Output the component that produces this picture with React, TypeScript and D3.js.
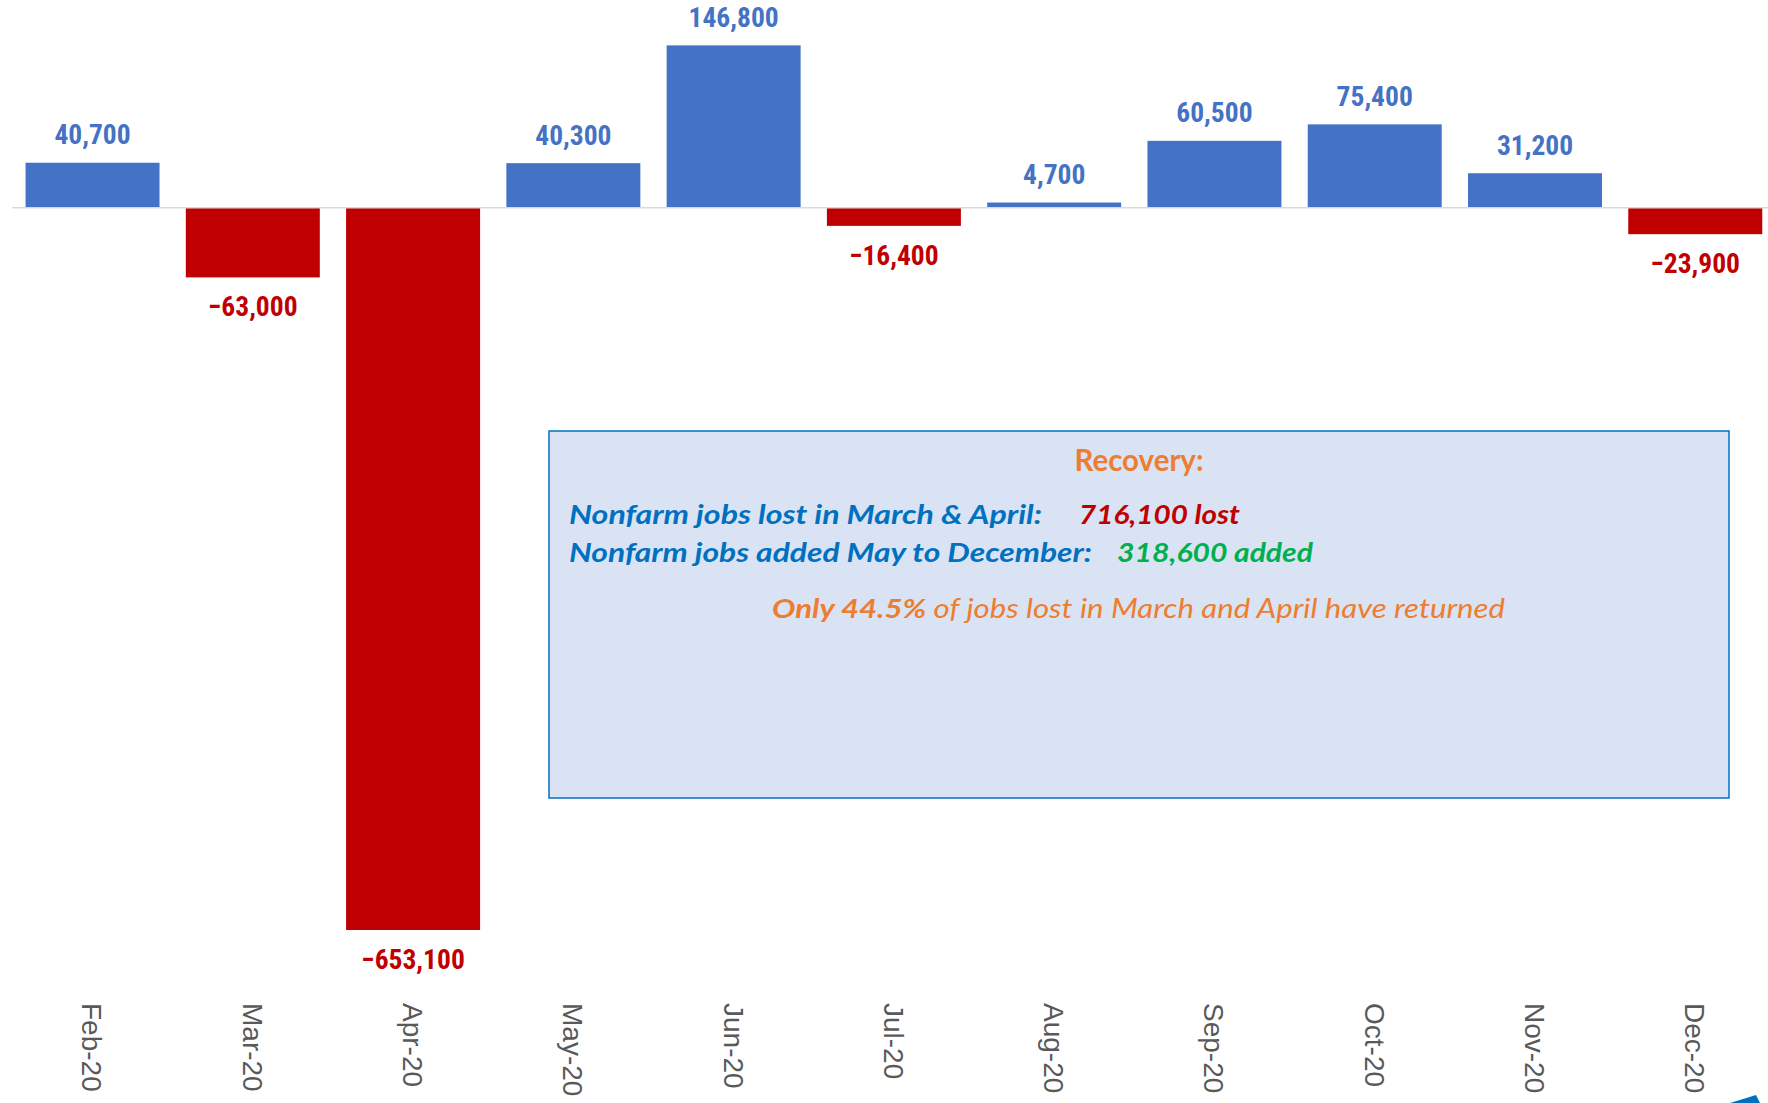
import React from 'react';
import * as d3 from 'd3';

const months = ['Feb-20', 'Mar-20', 'Apr-20', 'May-20', 'Jun-20', 'Jul-20', 'Aug-20', 'Sep-20', 'Oct-20', 'Nov-20', 'Dec-20'];
const jobChanges = [40700, -63000, -653100, 40300, 146800, -16400, 4700, 60500, 75400, 31200, -23900];

const lostLabel = 'Nonfarm jobs lost in March & April:';
const lostValue = '716,100 lost';
const addedLabel = 'Nonfarm jobs added May to December:';
const addedValue = '318,600 added';

const width = 1768;
const height = 1103;

const BLUE = '#4472C4';
const RED = '#C00000';

const App: React.FC = () => {
  const x = d3.scaleBand<string>()
    .domain(months)
    .range([12.4, 1775.4])
    .paddingInner(0.164)
    .paddingOuter(0.082);

  const y = d3.scaleLinear()
    .domain([d3.min(jobChanges) ?? 0, d3.max(jobChanges) ?? 0])
    .range([930, 45.4]);

  const fmt = d3.format(',');
  const labelFont = '"Liberation Sans Narrow", "Arial Narrow", "Roboto Condensed", sans-serif';
  const boxFont = 'Lato, "Open Sans", sans-serif';

  // annotation box
  const box = { x: 549, y: 431, w: 1180, h: 367 };
  const boxCx = box.x + box.w / 2;

  return (
    <svg width={width} height={height} style={{ position: 'absolute', left: 0, top: 0, background: '#fff' }}>
      {/* bars */}
      <g>
        {months.map((m, i) => {
          const v = jobChanges[i];
          const y0 = y(0);
          const yv = y(v);
          return (
            <rect
              key={m}
              x={x(m)}
              y={Math.min(y0, yv)}
              width={x.bandwidth()}
              height={Math.abs(yv - y0)}
              fill={v >= 0 ? BLUE : RED}
            />
          );
        })}
      </g>

      {/* zero line */}
      <line x1={12} x2={width} y1={y(0)} y2={y(0)} stroke="#D9D9D9" strokeWidth={1.5} />

      {/* value labels */}
      <g fontFamily={labelFont} fontWeight="bold" fontSize={27.5} textAnchor="middle">
        {months.map((m, i) => {
          const v = jobChanges[i];
          const cx = (x(m) ?? 0) + x.bandwidth() / 2;
          const ly = v >= 0 ? y(v) - 18.5 : y(v) + 39;
          return (
            <text key={m} x={cx} y={ly} fill={v >= 0 ? BLUE : RED}>{fmt(v)}</text>
          );
        })}
      </g>

      {/* category labels */}
      <g fontFamily='"Liberation Sans", Arial, sans-serif' fontSize={28} fill="#595959">
        {months.map(m => {
          const cx = (x(m) ?? 0) + x.bandwidth() / 2;
          return (
            <text key={m} transform={`translate(${cx},1003) rotate(90)`} dy="0.36em" textAnchor="start">{m}</text>
          );
        })}
      </g>

      {/* recovery box */}
      <rect x={box.x} y={box.y} width={box.w} height={box.h} fill="#DAE3F3" stroke="#0070C0" strokeWidth={1.5} />
      <g fontFamily={boxFont} fontSize={27}>
        <text x={boxCx} y={471} textAnchor="middle" fontWeight="bold" fontSize={29.5} fill="#ED7D31" textLength={129} lengthAdjust="spacingAndGlyphs">Recovery:</text>
        <text x={569} y={524} fontWeight="bold" fontStyle="italic" fill="#0070C0" textLength={473} lengthAdjust="spacingAndGlyphs">{lostLabel}</text>
        <text x={1079} y={524} fontWeight="bold" fontStyle="italic" fill={RED} textLength={161} lengthAdjust="spacingAndGlyphs">{lostValue}</text>
        <text x={569} y={562} fontWeight="bold" fontStyle="italic" fill="#0070C0" textLength={523} lengthAdjust="spacingAndGlyphs">{addedLabel}</text>
        <text x={1117} y={562} fontWeight="bold" fontStyle="italic" fill="#00B050" textLength={196} lengthAdjust="spacingAndGlyphs">{addedValue}</text>
        <text x={772} y={618} fontStyle="italic" fill="#ED7D31" textLength={733} lengthAdjust="spacingAndGlyphs">
          <tspan fontWeight="bold">Only 44.5%</tspan> of jobs lost in March and April have returned
        </text>
      </g>

      {/* corner fragment */}
      <polygon points="1730,1103 1756,1095 1760,1103" fill="#0070C0" />
    </svg>
  );
};

export default App;
